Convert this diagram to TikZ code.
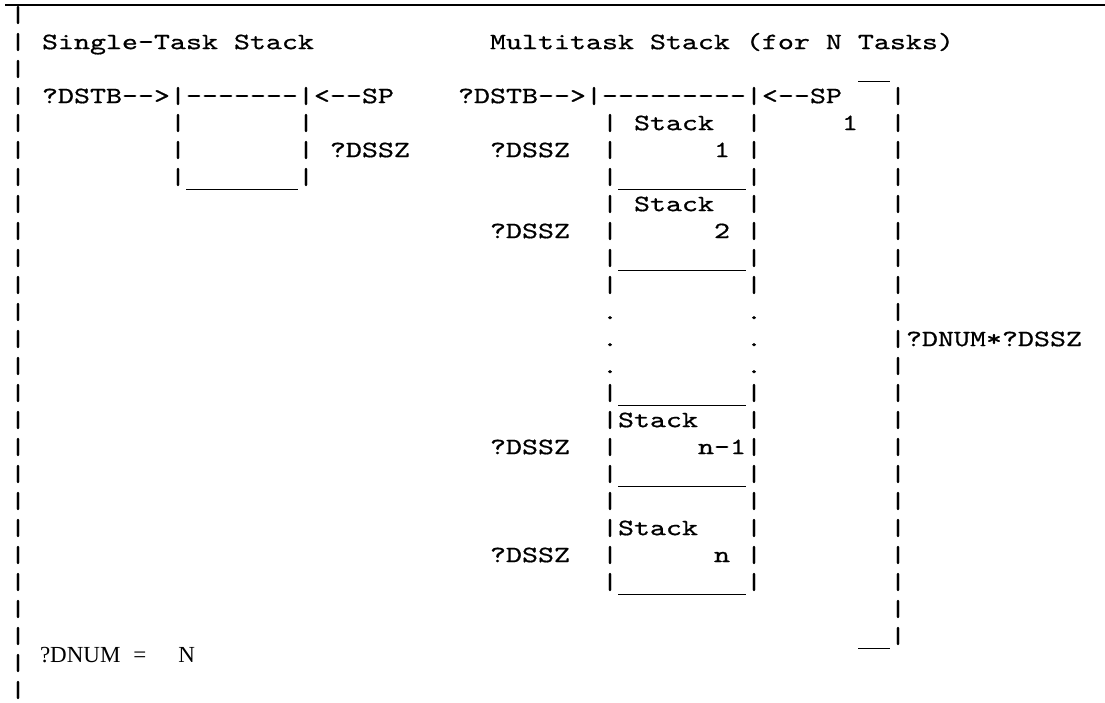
\documentclass[tikz,border=0pt]{standalone}
\usepackage{fontspec}
\newfontfamily\courf{lmmono10-regular.otf}[FakeStretch=1.3,FakeBold=0.7]
\newfontfamily\serf{Liberation Serif}
\newcommand\hyp{-\kern0pt\relax}
\newcommand\ulin[1]{\rule[-6pt]{\dimexpr16pt*#1\relax}{1.5pt}}
\newcommand\cellnode[4]{\node[txt] (#1) at ({10+16*(#2)},{20+27*(#3)}) {#4};}
\tikzset{
  txt/.style={anchor=mid west, inner sep=0pt, outer sep=0pt, font=\courf\fontsize{23.44}{27}\selectfont},
  rmtxt/.style={anchor=mid west, inner sep=0pt, outer sep=0pt, font=\serf\fontsize{23}{25}\selectfont},
  rulebar/.style={line width=1.6pt}
}
\begin{document}
\begin{tikzpicture}[x=1pt,y=-1pt]
\path[use as bounding box] (0,0) rectangle (1105,702);
\coordinate (ruleL) at (5,5);
\coordinate (ruleR) at (1105,5);
\draw[rulebar] (ruleL) -- (ruleR);
% left margin bars
\foreach \r in {0,...,25} {\node[txt] (lb\r) at (10,{20+27*\r}) {|};}
% single-task stack
\cellnode{t1}{2}{1}{Single-Task Stack}
\cellnode{a3}{2}{3}{?DSTB\hyp\hyp>|\hyp\hyp\hyp\hyp\hyp\hyp\hyp|<\hyp\hyp SP}
\cellnode{b4}{10}{4}{|}
\cellnode{c4}{18}{4}{|}
\cellnode{b5}{10}{5}{|}
\cellnode{c5}{18}{5}{| ?DSSZ}
\cellnode{b6}{10}{6}{|\ulin{7}|}
\node[rmtxt] (dnum) at (40,660) {?DNUM\hspace{13pt}=\hspace{32pt}N};
% multitask stack
\cellnode{t1r}{30}{1}{Multitask Stack (for N Tasks)}
\cellnode{o2}{53}{2}{\ulin{2}}
\cellnode{a3r}{28}{3}{?DSTB\hyp\hyp>|\hyp\hyp\hyp\hyp\hyp\hyp\hyp\hyp\hyp|<\hyp\hyp SP}
\foreach \r in {3,...,11,13,14,...,22} {\node[txt] (rb\r) at ({10+16*55},{20+27*\r}) {|};}
\cellnode{k12}{55}{12}{|?DNUM*?DSSZ}
\cellnode{k23}{53}{23}{\ulin{2}|}
\cellnode{one4}{52}{4}{1}
% stack 1
\cellnode{p4}{37}{4}{|}\cellnode{s4}{39}{4}{Stack}\cellnode{q4}{46}{4}{|}
\cellnode{z5}{30}{5}{?DSSZ}\cellnode{p5}{37}{5}{|}\cellnode{v5}{44}{5}{1}\cellnode{q5}{46}{5}{|}
\cellnode{u6}{37}{6}{|\ulin{8}|}
% stack 2
\cellnode{p7}{37}{7}{|}\cellnode{s7}{39}{7}{Stack}\cellnode{q7}{46}{7}{|}
\cellnode{z8}{30}{8}{?DSSZ}\cellnode{p8}{37}{8}{|}\cellnode{v8}{44}{8}{2}\cellnode{q8}{46}{8}{|}
\cellnode{u9}{37}{9}{|\ulin{8}|}
\cellnode{p10}{37}{10}{|}\cellnode{q10}{46}{10}{|}
% dots
\foreach \r in {11,12,13} {\cellnode{dl\r}{37}{\r}{.}\cellnode{dr\r}{46}{\r}{.}}
\cellnode{u14}{37}{14}{|\ulin{8}|}
% stack n-1
\cellnode{p15}{37}{15}{|Stack}\cellnode{q15}{46}{15}{|}
\cellnode{z16}{30}{16}{?DSSZ}\cellnode{p16}{37}{16}{|}\cellnode{v16}{43}{16}{n-1|}
\cellnode{u17}{37}{17}{|\ulin{8}|}
\cellnode{p18}{37}{18}{|}\cellnode{q18}{46}{18}{|}
% stack n
\cellnode{p19}{37}{19}{|Stack}\cellnode{q19}{46}{19}{|}
\cellnode{z20}{30}{20}{?DSSZ}\cellnode{p20}{37}{20}{|}\cellnode{v20}{44}{20}{n}\cellnode{q20}{46}{20}{|}
\cellnode{u21}{37}{21}{|\ulin{8}|}
\end{tikzpicture}
\end{document}
